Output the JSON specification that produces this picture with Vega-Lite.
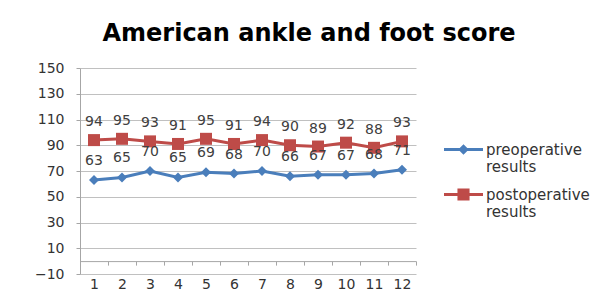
{
  "$schema": "https://vega.github.io/schema/vega-lite/v6.json",
  "width": 336,
  "height": 206,
  "autosize": {"type": "none"},
  "padding": {"left": 80, "top": 68, "right": 195, "bottom": 28},
  "background": "white",
  "title": {
    "text": "American ankle and foot score",
    "font": "DejaVu Sans",
    "fontSize": 24,
    "fontWeight": "bold",
    "color": "#000000",
    "anchor": "middle",
    "frame": "group",
    "dx": 61,
    "offset": 15
  },
  "config": {
    "view": {"stroke": null},
    "font": "DejaVu Sans"
  },
  "data": {
    "values": [
      {"n": 1, "series": "preoperative results", "v": 63},
      {"n": 2, "series": "preoperative results", "v": 65},
      {"n": 3, "series": "preoperative results", "v": 70},
      {"n": 4, "series": "preoperative results", "v": 65},
      {"n": 5, "series": "preoperative results", "v": 69},
      {"n": 6, "series": "preoperative results", "v": 68},
      {"n": 7, "series": "preoperative results", "v": 70},
      {"n": 8, "series": "preoperative results", "v": 66},
      {"n": 9, "series": "preoperative results", "v": 67},
      {"n": 10, "series": "preoperative results", "v": 67},
      {"n": 11, "series": "preoperative results", "v": 68},
      {"n": 12, "series": "preoperative results", "v": 71},
      {"n": 1, "series": "postoperative results", "v": 94},
      {"n": 2, "series": "postoperative results", "v": 95},
      {"n": 3, "series": "postoperative results", "v": 93},
      {"n": 4, "series": "postoperative results", "v": 91},
      {"n": 5, "series": "postoperative results", "v": 95},
      {"n": 6, "series": "postoperative results", "v": 91},
      {"n": 7, "series": "postoperative results", "v": 94},
      {"n": 8, "series": "postoperative results", "v": 90},
      {"n": 9, "series": "postoperative results", "v": 89},
      {"n": 10, "series": "postoperative results", "v": 92},
      {"n": 11, "series": "postoperative results", "v": 88},
      {"n": 12, "series": "postoperative results", "v": 93}
    ]
  },
  "encoding": {
    "x": {
      "field": "n",
      "type": "ordinal",
      "sort": null,
      "scale": {"type": "band", "paddingInner": 0, "paddingOuter": 0},
      "axis": {
        "title": null,
        "labelAngle": 0,
        "offset": -12.9,
        "tickBand": "extent",
        "tickSize": 4,
        "tickColor": "#a6a6a6",
        "domainColor": "#a6a6a6",
        "labelPadding": 12,
        "labelFont": "DejaVu Sans",
        "labelFontSize": 14,
        "labelColor": "#333333",
        "grid": false
      }
    },
    "y": {
      "field": "v",
      "type": "quantitative",
      "scale": {"domain": [-10, 150], "nice": false, "zero": false},
      "axis": {
        "title": null,
        "values": [-10, 10, 30, 50, 70, 90, 110, 130, 150],
        "tickSize": 4,
        "tickColor": "#a6a6a6",
        "domainColor": "#a6a6a6",
        "gridColor": "#c0c0c0",
        "labelPadding": 12,
        "labelFont": "DejaVu Sans",
        "labelFontSize": 14,
        "labelColor": "#333333"
      }
    },
    "color": {
      "field": "series",
      "type": "nominal",
      "sort": ["preoperative results", "postoperative results"],
      "scale": {
        "domain": ["preoperative results", "postoperative results"],
        "range": ["#4a7ebb", "#be4b48"]
      },
      "legend": {
        "title": null,
        "orient": "none",
        "legendX": 364,
        "legendY": 62,
        "padding": 0,
        "symbolSize": 1521,
        "symbolOpacity": 1,
        "symbolStrokeWidth": 0,
        "labelFont": "DejaVu Sans",
        "labelFontSize": 15,
        "labelColor": "#333333",
        "labelOffset": 3,
        "labelExpr": "split(datum.label, ' ')",
        "rowPadding": -1,
        "labelLimit": 200
      }
    }
  },
  "layer": [
    {
      "mark": {"type": "line", "strokeWidth": 3}
    },
    {
      "mark": {"type": "point", "filled": true, "opacity": 1},
      "encoding": {
        "shape": {
          "condition": {"test": "datum.series === 'preoperative results'", "value": "diamond"},
          "value": "square"
        },
        "size": {
          "condition": {"test": "datum.series === 'preoperative results'", "value": 100},
          "value": 144
        }
      }
    },
    {
      "transform": [{"filter": "datum.series === 'preoperative results'"}],
      "mark": {"type": "text", "dy": -19, "fontSize": 14, "font": "DejaVu Sans", "color": "#404040"},
      "encoding": {"text": {"field": "v", "type": "quantitative"}, "color": {"value": "#404040"}}
    },
    {
      "transform": [{"filter": "datum.series === 'postoperative results'"}],
      "mark": {"type": "text", "dy": -18, "fontSize": 14, "font": "DejaVu Sans", "color": "#404040"},
      "encoding": {"text": {"field": "v", "type": "quantitative"}, "color": {"value": "#404040"}}
    },
    {
      "mark": {"type": "point", "filled": true, "opacity": 0},
      "encoding": {
        "shape": {
          "field": "series",
          "type": "nominal",
          "sort": ["preoperative results", "postoperative results"],
          "scale": {
            "domain": ["preoperative results", "postoperative results"],
            "range": [
              "M-1,-0.08H1V0.08H-1Z M-0.27,0L0,-0.27L0.27,0L0,0.27Z",
              "M-1,-0.08H1V0.08H-1Z M-0.31,-0.31H0.31V0.31H-0.31Z"
            ]
          },
          "legend": {
            "title": null,
            "orient": "none",
            "legendX": 364,
            "legendY": 62,
            "padding": 0,
            "symbolSize": 1521,
            "symbolOpacity": 1,
            "symbolStrokeWidth": 0,
            "labelFont": "DejaVu Sans",
            "labelFontSize": 15,
            "labelColor": "#333333",
            "labelOffset": 3,
            "labelExpr": "split(datum.label, ' ')",
            "rowPadding": -1,
            "labelLimit": 200
          }
        }
      }
    }
  ]
}
